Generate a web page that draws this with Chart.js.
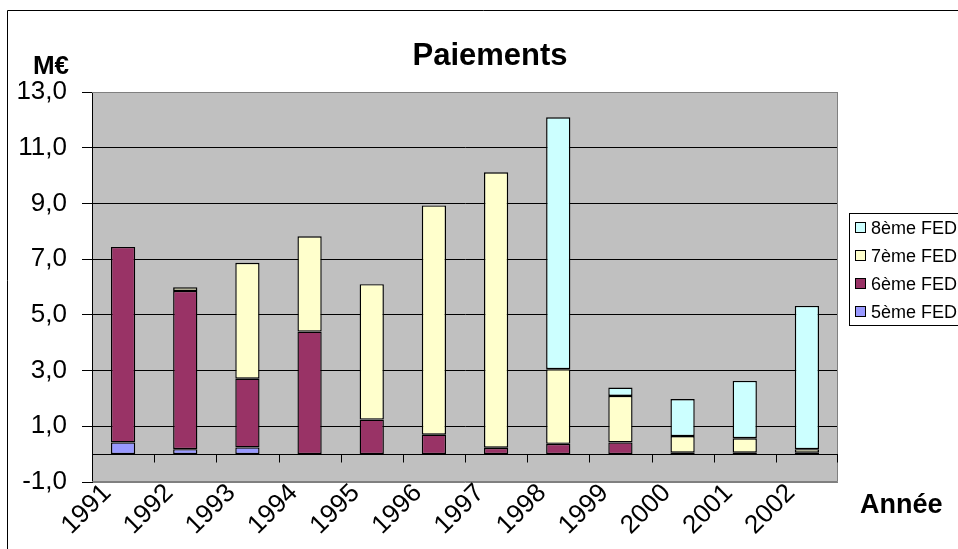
<!DOCTYPE html>
<html>
<head>
<meta charset="utf-8">
<script src="https://cdn.jsdelivr.net/npm/chart.js@4/dist/chart.umd.min.js"></script>
<style>
body { margin: 0; background: #fff; }
</style>
</head>
<body>
<canvas id="graphique" width="958" height="549"></canvas>
<script>
const annees = ['1991', '1992', '1993', '1994', '1995', '1996', '1997', '1998', '1999', '2000', '2001', '2002']
const fed5 = [0.42, 0.18, 0.24, null, null, null, null, null, null, null, null, null]
const fed6 = [7.02, 5.68, 2.47, 4.40, 1.24, 0.70, 0.23, 0.37, 0.42, 0.05, 0.05, 0.05]
const fed7 = [null, 0.13, 4.16, 3.42, 4.86, 8.23, 9.89, 2.68, 1.67, 0.60, 0.52, 0.13]
const fed8 = [null, null, null, null, null, null, null, 9.04, 0.30, 1.33, 2.06, 5.14]
const police = "'Liberation Sans', Arial, sans-serif"

// fond gris, cadre, titres et legende dessines a la main
const decor = {
	id: 'decor',
	beforeDraw(chart) {
		const { ctx, chartArea: a } = chart
		ctx.save()
		ctx.fillStyle = '#C0C0C0'
		ctx.fillRect(a.left, a.top, a.right - a.left, a.bottom - a.top)
		ctx.strokeStyle = '#000'
		ctx.lineWidth = 1
		ctx.beginPath()
		ctx.moveTo(7.5, 560)
		ctx.lineTo(7.5, 10.5)
		ctx.lineTo(960, 10.5)
		ctx.stroke()
		ctx.restore()
	},
	afterDatasetsDraw(chart) {
		const { ctx, chartArea: a, scales } = chart
		const y0 = Math.round(scales.y.getPixelForValue(0)) + 0.5
		ctx.save()
		ctx.strokeStyle = '#808080'
		ctx.lineWidth = 1
		ctx.beginPath()
		ctx.moveTo(a.left, a.top + 0.5)
		ctx.lineTo(a.right - 0.5, a.top + 0.5)
		ctx.lineTo(a.right - 0.5, a.bottom - 0.5)
		ctx.lineTo(a.left, a.bottom - 0.5)
		ctx.stroke()
		ctx.strokeStyle = '#000'
		ctx.beginPath()
		ctx.moveTo(a.left, y0)
		ctx.lineTo(a.right, y0)
		for (let i = 0; i <= annees.length; i++) {
			let x
			if (i == 0) x = a.left
			else if (i == annees.length) x = a.right - 1
			else x = (scales.x.getPixelForValue(i - 1) + scales.x.getPixelForValue(i)) / 2
			x = Math.round(x) + 0.5
			ctx.moveTo(x, y0)
			ctx.lineTo(x, y0 + 8)
		}
		ctx.stroke()
		ctx.restore()
	},
	afterDraw(chart) {
		const { ctx } = chart
		ctx.save()
		ctx.fillStyle = '#000'
		ctx.textBaseline = 'alphabetic'
		ctx.textAlign = 'center'
		ctx.font = 'bold 31px ' + police
		ctx.fillText('Paiements', 490, 65)
		ctx.font = 'bold 26px ' + police
		ctx.fillText('M€', 51, 74)
		ctx.textAlign = 'left'
		ctx.font = 'bold 27px ' + police
		ctx.fillText('Année', 860, 513)

		// legende
		ctx.strokeStyle = '#000'
		ctx.lineWidth = 1
		ctx.strokeRect(849.5, 213.5, 120, 112)
		ctx.font = '18px ' + police
		ctx.textBaseline = 'middle'
		const items = chart.data.datasets.slice().reverse()
		items.forEach((ds, i) => {
			const yy = 228 + i * 28
			ctx.fillStyle = ds.backgroundColor
			ctx.fillRect(855.5, yy - 5.5, 10, 10)
			ctx.strokeRect(855.5, yy - 5.5, 10, 10)
			ctx.fillStyle = '#000'
			ctx.fillText(ds.label, 871, yy + 1)
		})
		ctx.restore()
	}
}

const serie = (label, data, couleur) => ({
	label: label,
	data: data,
	backgroundColor: couleur,
	borderColor: '#000',
	borderWidth: 1.4,
	borderSkipped: false,
	categoryPercentage: 1,
	barPercentage: 0.39
})

new Chart(document.getElementById('graphique'), {
	type: 'bar',
	data: {
		labels: annees,
		datasets: [
			serie('5ème FED', fed5, '#9999FF'),
			serie('6ème FED', fed6, '#993366'),
			serie('7ème FED', fed7, '#FFFFCC'),
			serie('8ème FED', fed8, '#CCFFFF')
		]
	},
	options: {
		responsive: false,
		animation: false,
		layout: { padding: { top: 92, right: 120, bottom: 0, left: 0 } },
		plugins: {
			legend: { display: false },
			title: { display: false },
			tooltip: { enabled: false }
		},
		scales: {
			x: {
				stacked: true,
				grid: { display: false },
				border: { display: false },
				ticks: {
					color: '#000',
					font: { family: police, size: 26 },
					maxRotation: 45,
					minRotation: 45,
					padding: -12,
					labelOffset: -16
				},
				afterFit(scale) { scale.height = 67 }
			},
			y: {
				stacked: true,
				min: -1,
				max: 13,
				ticks: {
					stepSize: 2,
					color: '#000',
					padding: 15,
					font: { family: police, size: 26 },
					callback: (v) => v.toFixed(1).replace('.', ',')
				},
				grid: {
					color: (c) => (c.tick && (c.tick.value == 13 || c.tick.value == -1)) ? '#808080' : '#000',
					tickColor: '#000',
					tickLength: 10
				},
				border: { color: '#000' },
				afterFit(scale) { scale.width = 92 }
			}
		}
	},
	plugins: [decor]
})
</script>
</body>
</html>
